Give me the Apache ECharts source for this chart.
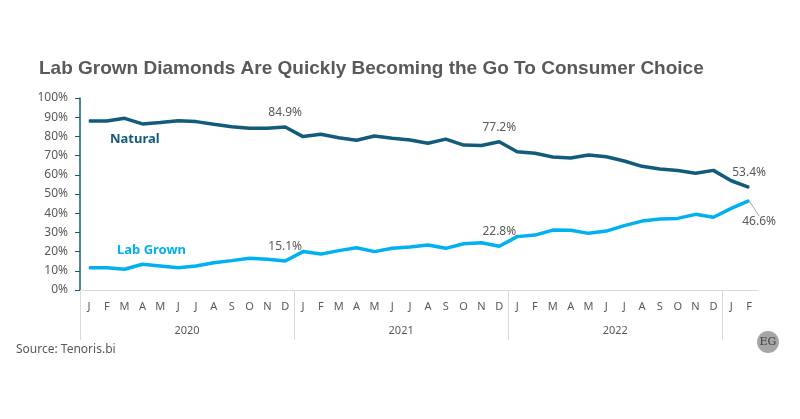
<!DOCTYPE html>
<html lang="en">
<head>
  <meta charset="utf-8">
  <title>Lab Grown vs Natural</title>
  <script src="https://cdn.jsdelivr.net/npm/echarts@6/dist/echarts.min.js"></script>
</head>
<body style="margin:0">
<div id="main" style="width:800px;height:419px"></div>
<script type="text/javascript">
    // monthly share of consumer choice, Jan 2020 - Feb 2023
    var months = ['J','F','M','A','M','J','J','A','S','O','N','D',
                  'J','F','M','A','M','J','J','A','S','O','N','D',
                  'J','F','M','A','M','J','J','A','S','O','N','D',
                  'J','F'];
    var years = ['2020', '2021', '2022'];
    var natural = [88.0, 88.0, 89.4, 86.5, 87.3, 88.2, 87.7, 86.3, 85.0, 84.2, 84.2, 84.9,
                   79.9, 81.1, 79.3, 78.0, 80.2, 79.0, 78.1, 76.4, 78.6, 75.5, 75.3, 77.2,
                   72.0, 71.2, 69.3, 68.7, 70.3, 69.4, 67.2, 64.4, 63.0, 62.2, 60.8, 62.3,
                   56.9, 53.4];
    var labGrown = [11.6, 11.6, 10.8, 13.4, 12.5, 11.6, 12.5, 14.2, 15.3, 16.5, 16.0, 15.1,
                    20.0, 18.7, 20.5, 22.0, 20.0, 21.7, 22.4, 23.4, 21.7, 24.1, 24.6, 22.8,
                    27.8, 28.6, 31.2, 31.1, 29.5, 30.7, 33.5, 35.9, 37.0, 37.3, 39.4, 37.9,
                    42.5, 46.6];
    var labelled = [11, 23, 37];

    var natColor = '#135b7b';
    var labColor = '#00b0f0';
    var txtColor = '#595959';
    var font = "'Noto Sans', sans-serif";

    // only the last lab grown label gets a leader line
    function withLabels(values, leaderAt) {
        return values.map(function (v, i) {
            if (labelled.indexOf(i) < 0) return v;
            return {
                value: v,
                label: { show: true },
                labelLine: { show: i === leaderAt }
            };
        });
    }

    var myChart = echarts.init(document.getElementById('main'));

    var option = {
        animation: false,
        title: {
            text: 'Lab Grown Diamonds Are Quickly Becoming the Go To Consumer Choice',
            left: 34,
            top: 54,
            textStyle: {
                fontFamily: "'Liberation Sans', Arial, sans-serif",
                fontWeight: 'bold',
                fontSize: 19,
                color: txtColor
            }
        },
        grid: { left: 80, right: 42, top: 98, bottom: 129 },
        xAxis: [{
            type: 'category',
            data: months,
            axisLine: { lineStyle: { color: '#d9d9d9', width: 1 } },
            axisTick: { show: false },
            axisLabel: { color: txtColor, fontFamily: font, fontSize: 11, margin: 11, interval: 0 }
        }, {
            type: 'value',
            min: 0,
            max: 38,
            position: 'bottom',
            axisLine: { show: false },
            splitLine: { show: false },
            axisTick: {
                show: true,
                customValues: [0, 12, 24, 36],
                length: 50,
                lineStyle: { color: '#d9d9d9', width: 1 }
            },
            axisLabel: {
                customValues: [6, 18, 30],
                formatter: function (v) { return years[(v - 6) / 12]; },
                color: txtColor,
                fontFamily: font,
                fontSize: 11,
                margin: 35
            }
        }],
        yAxis: {
            type: 'value',
            min: 0,
            max: 100,
            interval: 10,
            axisLine: { show: true, lineStyle: { color: natColor, width: 1.5 } },
            splitLine: { show: false },
            axisLabel: { formatter: '{value}%', color: txtColor, fontFamily: font, fontSize: 12, margin: 12 }
        },
        series: [{
            name: 'Natural',
            type: 'line',
            data: withLabels(natural, -1),
            symbol: 'circle',
            symbolSize: 1,
            lineStyle: { color: natColor, width: 3.5 },
            itemStyle: { color: natColor },
            label: {
                show: false, position: 'top', distance: 8,
                color: txtColor, fontFamily: font, fontSize: 12,
                formatter: function (p) { return p.value.toFixed(1) + '%'; }
            }
        }, {
            name: 'Lab Grown',
            type: 'line',
            data: withLabels(labGrown, 37),
            symbol: 'circle',
            symbolSize: 1,
            lineStyle: { color: labColor, width: 3.5 },
            itemStyle: { color: labColor },
            label: {
                show: false, position: 'top', distance: 8,
                color: txtColor, fontFamily: font, fontSize: 12,
                formatter: function (p) { return p.value.toFixed(1) + '%'; }
            },
            labelLine: { show: false, lineStyle: { color: '#a6a6a6', width: 1 } },
            labelLayout: function (params) {
                if (params.dataIndex === 37) return { dx: 10, dy: 36 };
                return {};
            }
        }],
        graphic: [{
            type: 'text', left: 110, top: 133,
            style: { text: 'Natural', fill: natColor, font: "bold 13px 'Noto Sans', sans-serif" }
        }, {
            type: 'text', left: 117, top: 244,
            style: { text: 'Lab Grown', fill: labColor, font: "bold 13px 'Noto Sans', sans-serif" }
        }, {
            type: 'text', left: 16, top: 344,
            style: { text: 'Source: Tenoris.bi', fill: txtColor, font: "12px 'Noto Sans', sans-serif" }
        }, {
            type: 'circle', shape: { cx: 768, cy: 342, r: 11 },
            style: { fill: '#a6a6a6' }
        }, {
            type: 'text', x: 768, y: 342,
            style: {
                text: 'EG', fill: '#404040', align: 'center', verticalAlign: 'middle',
                font: "11px 'DejaVu Serif', serif"
            }
        }]
    };

    myChart.setOption(option);
</script>
</body>
</html>
